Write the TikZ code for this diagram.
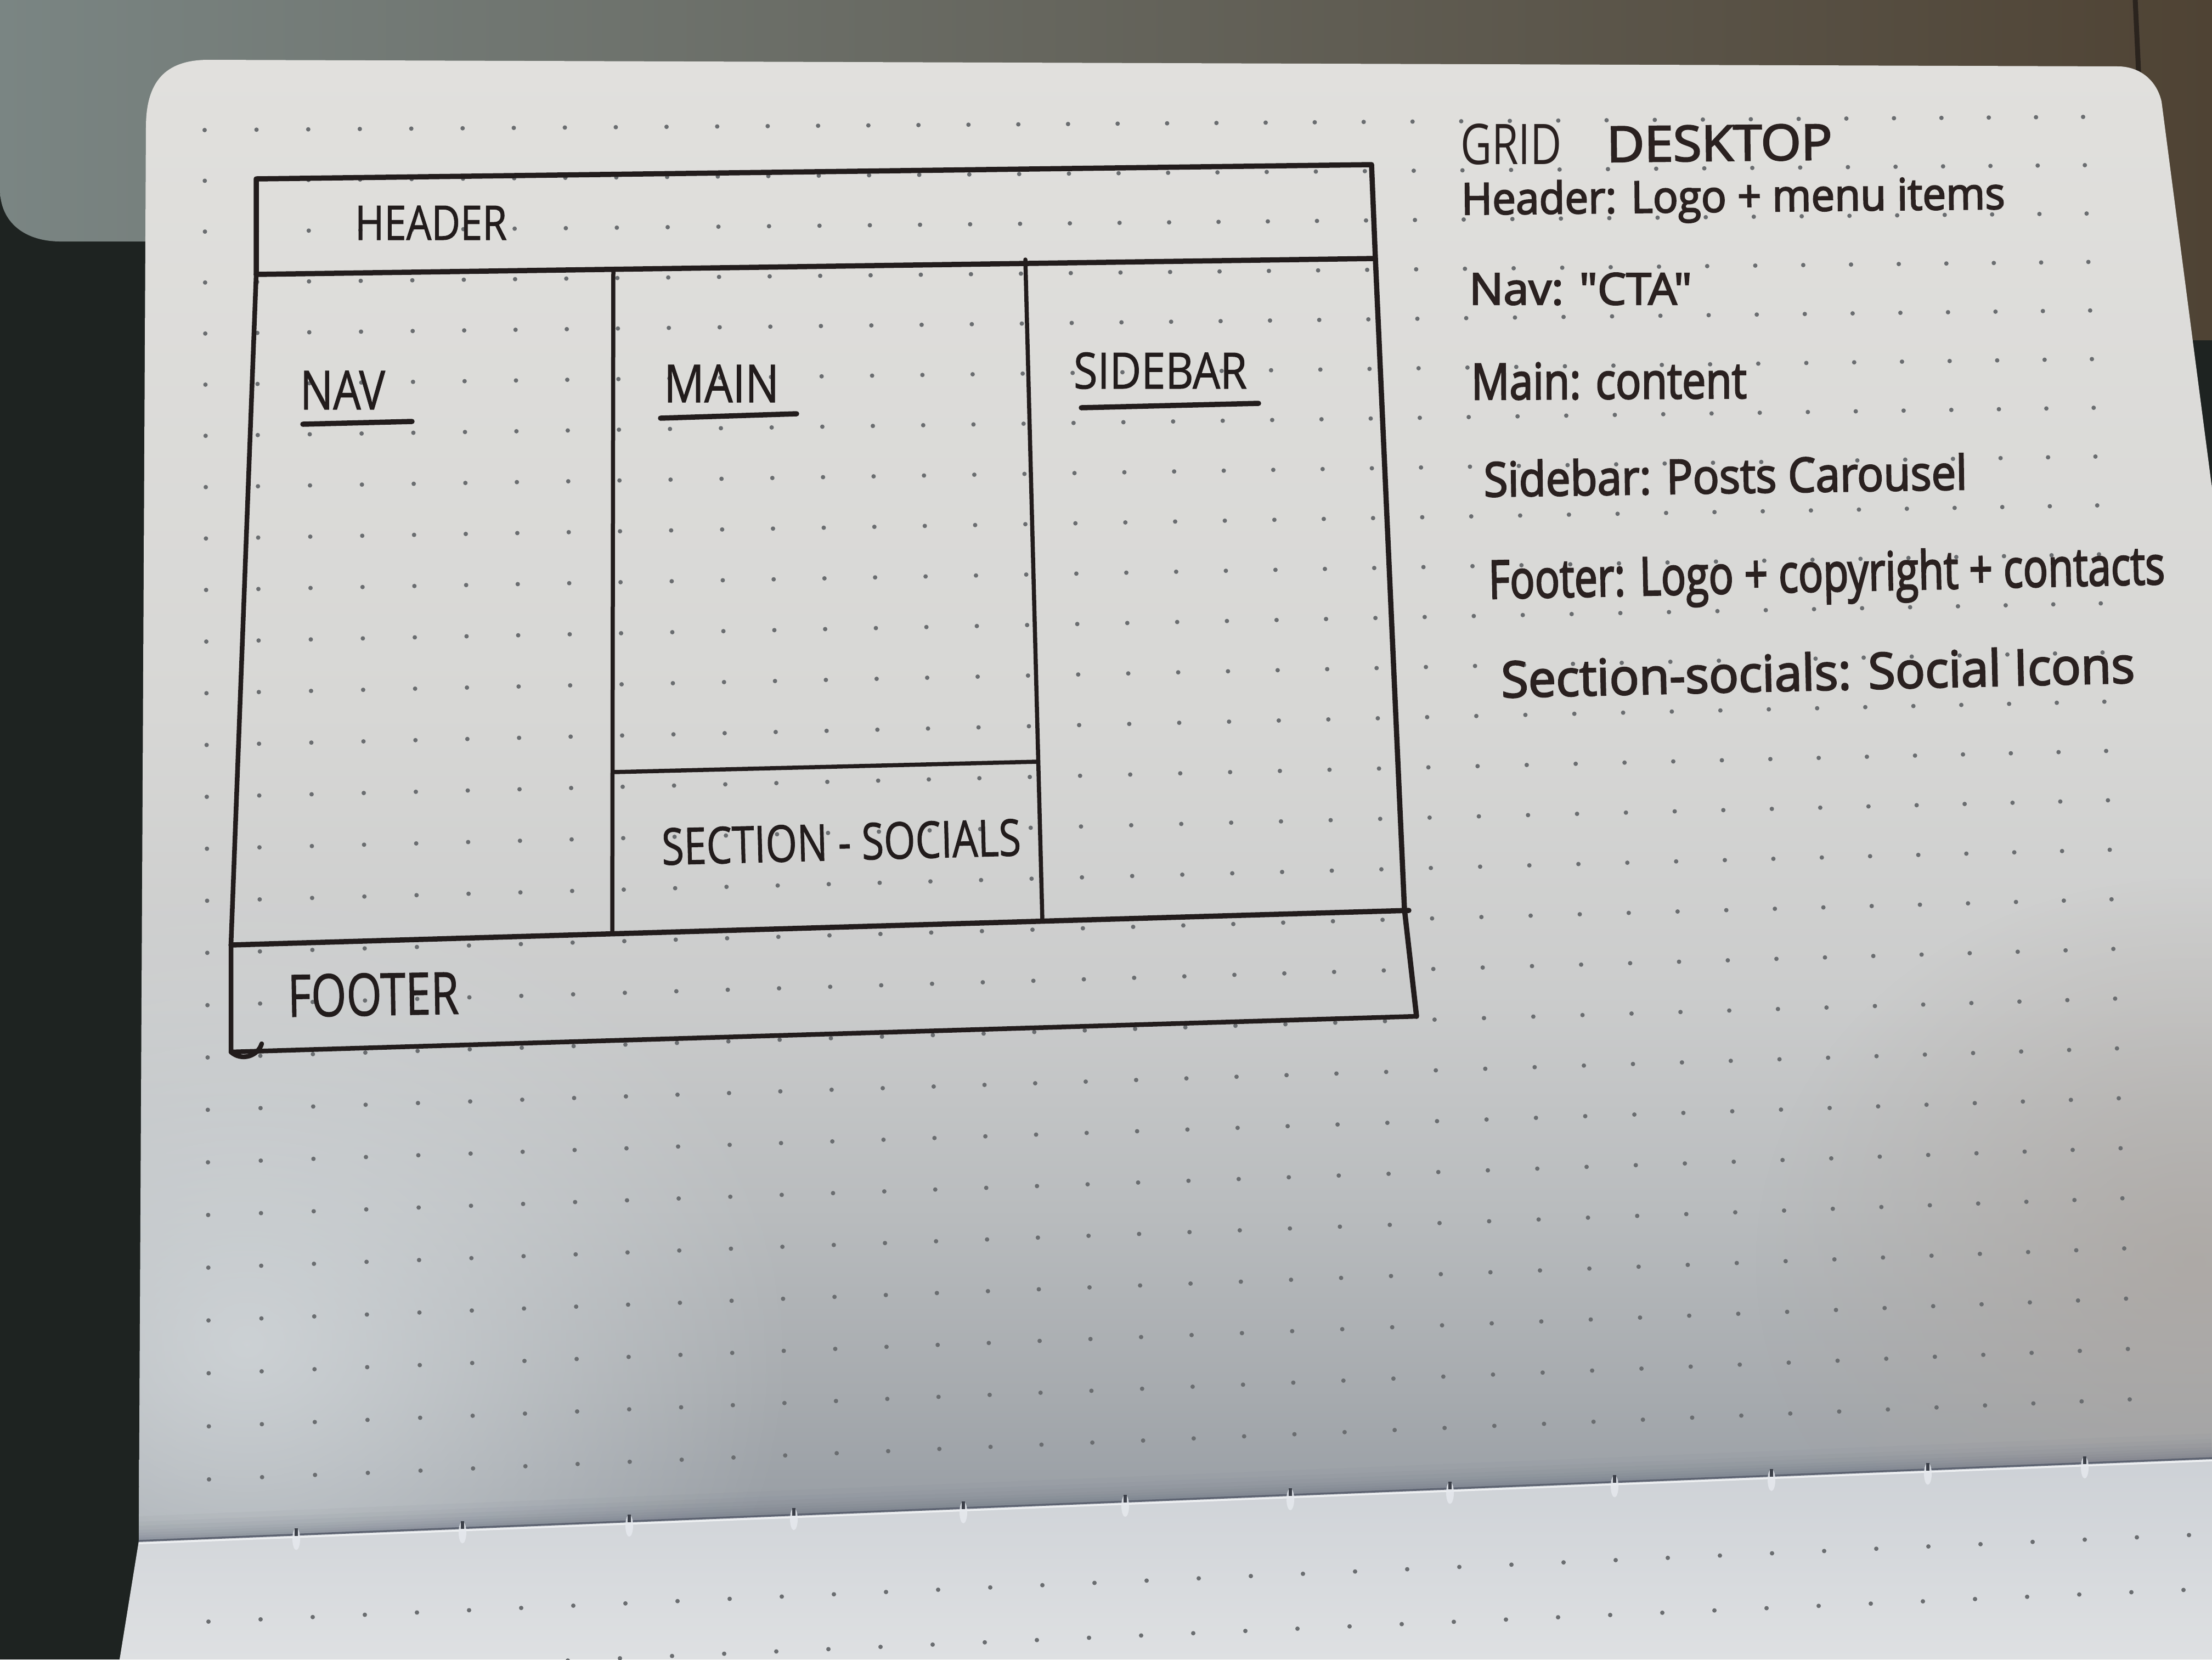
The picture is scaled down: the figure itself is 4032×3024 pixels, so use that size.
\documentclass[tikz,border=0pt]{standalone}
\usepackage{fontspec}
\usepackage{graphicx}
\usetikzlibrary{fadings}

\newfontfamily\handfont[FakeBold=1.2]{Open Sans}
\newfontfamily\handthin{Open Sans}
\newfontfamily\handbold[FakeBold=3]{Open Sans}

% ink and paper colours
\definecolor{ink}{HTML}{221C1C}
\definecolor{inknote}{HTML}{2A2120}
\definecolor{desk}{HTML}{1E2321}
\definecolor{lidL}{HTML}{7A8583}
\definecolor{lidM}{HTML}{66696A}
\definecolor{lidR}{HTML}{4F4334}
\definecolor{lidseam}{HTML}{2B241E}
\definecolor{upA}{HTML}{959BA2}
\definecolor{upB}{HTML}{A6AAAE}
\definecolor{upC}{HTML}{B9BCBE}
\definecolor{upD}{HTML}{CBCCCC}
\definecolor{upE}{HTML}{D7D7D5}
\definecolor{upF}{HTML}{E1E0DD}
\definecolor{spotcool}{HTML}{D2D7DA}
\definecolor{spotwarm}{HTML}{ABA49E}
\definecolor{foldshade}{HTML}{6C7383}
\definecolor{foldline}{HTML}{5D6371}
\definecolor{foldlight}{HTML}{EEF0F2}
\definecolor{lowTop}{HTML}{CDD1D6}
\definecolor{lowBot}{HTML}{DEE0E2}
\definecolor{dotc}{HTML}{6A6D70}
\definecolor{stitchlight}{HTML}{E6E9EE}
\definecolor{stitchdark}{HTML}{3B3F48}

% paper shading of the upper page, dark at the fold, light at the top
\pgfdeclareverticalshading{uppage}{100bp}{color(0bp)=(upA); color(25bp)=(upA);
  color(29.8bp)=(upB); color(36.25bp)=(upC); color(43.5bp)=(upD);
  color(53bp)=(upE); color(75bp)=(upF); color(100bp)=(upF)}

\tikzfading[name=softspot, inner color=transparent!0, outer color=transparent!100]

% hand lettering: width (mm), font size (mm), text
\newcommand{\handcaps}[3]{\resizebox{#1mm}{\height}{\handfont\fontsize{#2mm}{#2mm}\selectfont #3}}
\newcommand{\handlight}[3]{\resizebox{#1mm}{\height}{\handthin\fontsize{#2mm}{#2mm}\selectfont #3}}
\newcommand{\handnote}[3]{\resizebox{#1mm}{\height}{\handbold\fontsize{#2mm}{#2mm}\selectfont #3}}

\def\pageupper{(266,232) .. controls (266,150) and (300,109) .. (380,109) -- (3864,121)
  .. controls (3905,123) and (3932,150) .. (3940,185) -- (4032,890) -- (4032,2657)
  -- (253,2808) -- cycle}

\tikzset{
  wire/.style={draw=ink, line width=0.85mm, line cap=round, line join=round},
  underline/.style={draw=ink, line width=0.95mm, line cap=round},
  wftext/.style={inner sep=0pt, outer sep=0pt, anchor=base west, text=ink},
  notetext/.style={inner sep=0pt, outer sep=0pt, anchor=base west, text=inknote},
  griddot/.style={fill=dotc},
}

\begin{document}
\begin{tikzpicture}[x=0.1mm,y=-0.1mm]
\useasboundingbox (0,0) rectangle (4032,3024);

% desk and laptop lid behind the notebook
\fill[desk] (0,0) rectangle (4032,3024);
\shade[left color=lidL, middle color=lidM, right color=lidR]
  (0,0) -- (4032,0) -- (4032,620) -- (2200,620) -- (2200,440) -- (110,440)
  .. controls (45,440) and (0,405) .. (0,345) -- cycle;
\draw[lidseam, line width=0.9mm] (3892,0) -- (3899,150);

% lower page below the fold
\shade[top color=lowTop, bottom color=lowBot]
  (253,2808) -- (4032,2657) -- (4032,3024) -- (218,3024) -- cycle;

% upper page
\shade[shading=uppage] \pageupper;
\begin{scope}
  \clip \pageupper;
  \fill[spotcool, path fading=softspot, fill opacity=0.85] (450,2450) ellipse [x radius=1000, y radius=900];
  \fill[spotwarm, path fading=softspot, fill opacity=0.7] (4000,2300) ellipse [x radius=800, y radius=700];
\end{scope}

% fold between the two pages, with its soft shadow on the upper page
\coordinate (foldL) at (253,2808);
\coordinate (foldR) at (4032,2657);
\begin{scope}
  \clip \pageupper;
  \foreach \w/\o in {9/0.05, 7/0.06, 5.5/0.07, 4/0.08, 3/0.09, 2/0.1, 1.2/0.12}{
    \draw[foldshade, line width=\w mm, opacity=\o] (foldL) -- (foldR);
  }
\end{scope}
\draw[foldline, line width=0.35mm] (foldL) -- (foldR);
\draw[foldlight, line width=0.3mm] ([yshift=-0.45mm]foldL) -- ([yshift=-0.45mm]foldR);

% binding stitches along the fold
\foreach \sx in {540,843,1147,1447,1756,2051,2352,2643,2943,3229,3514,3800}{
  \pgfmathsetmacro{\sy}{2808-0.04*(\sx-253)}
  \fill[stitchlight, opacity=0.85] (\sx,\sy+8) ellipse [x radius=7, y radius=20];
  \fill[stitchdark] (\sx-3,\sy-12) rectangle (\sx+3,\sy+2);
}

% dot grid of the upper page (seen in perspective)
\foreach \i in {0,...,38}{
  \foreach \j in {0,...,26}{
    \pgfmathsetmacro{\gu}{\i/38}
    \pgfmathsetmacro{\gv}{\j/26}
    \pgfmathsetmacro{\gw}{1+0.05075*\gu-0.02323*\gv}
    \pgfmathsetmacro{\gx}{(3616.7*\gu-0.85*\gv+373)/\gw}
    \pgfmathsetmacro{\gy}{(-13.19*\gu+2396.4*\gv+237)/\gw}
    \fill[griddot] (\gx,\gy) circle[radius=0.4mm];
  }
}
% dot grid of the lower page
\foreach \k in {0,...,38}{
  \fill[griddot] (380+95*\k,2955-4.15*\k) circle[radius=0.4mm];
  \fill[griddot] (370+95*\k,3055-4.15*\k) circle[radius=0.4mm];
}

% wireframe corners
\coordinate (hTL) at (467,326);
\coordinate (hTR) at (2500,300);
\coordinate (hBL) at (467,500);
\coordinate (hBR) at (2507,471);
\coordinate (rMid) at (2560,1657);
\coordinate (fTL) at (421,1722);
\coordinate (fTR) at (2568,1659);
\coordinate (fBL) at (421,1917);
\coordinate (fBR) at (2582,1852);
\coordinate (nmT) at (1118,490);
\coordinate (nmB) at (1116,1702);
\coordinate (msT) at (1869,473);
\coordinate (msB) at (1900,1678);
\coordinate (ssL) at (1118,1407);
\coordinate (ssR) at (1890,1388);
\coordinate (hook) at (477,1902);

% wireframe outline and grid areas
\draw[wire, line width=0.95mm] (hBL) -- (hTL) -- (hTR) -- (hBR) -- (rMid) -- (fBR);
\draw[wire, line width=0.95mm] (hBL) -- (hBR);
\draw[wire] (hBL) -- (fTL) -- (fBL) -- (fBR);
\draw[wire] (fBL) .. controls (440,1934) and (470,1925) .. (hook);
\draw[wire, line width=0.95mm] (fTL) -- (fTR);
\draw[wire, line width=0.75mm] (nmT) -- (nmB);
\draw[wire, line width=0.75mm] (msT) -- (msB);
\draw[wire, line width=0.75mm] (ssL) -- (ssR);

% area labels
\node[wftext] (lblHeader) at (647,437) {\handcaps{27.7}{8.68}{HEADER}};
\node[wftext] (lblNav) at (547,746) {\handcaps{15.5}{9.8}{NAV}};
\node[wftext] (lblMain) at (1210,733) {\handcaps{21.0}{9.52}{MAIN}};
\node[wftext] (lblSidebar) at (1957,708) {\handcaps{31.6}{9.1}{SIDEBAR}};
\node[wftext, rotate=1.5] (lblSocials) at (1207,1576) {\handcaps{65.5}{9.24}{SECTION - SOCIALS}};
\node[wftext, rotate=1] (lblFooter) at (525,1853) {\handcaps{31.2}{10.64}{FOOTER}};

% underlines of the column labels
\coordinate (uNavL) at (552,773);   \coordinate (uNavR) at (751,768);
\coordinate (uMainL) at (1204,762); \coordinate (uMainR) at (1452,754);
\coordinate (uSideL) at (1971,743); \coordinate (uSideR) at (2294,735);
\draw[underline] (uNavL) -- (uNavR);
\draw[underline] (uMainL) -- (uMainR);
\draw[underline] (uSideL) -- (uSideR);

% notes beside the wireframe
\node[notetext] (ttlGrid) at (2662,299) {\handlight{18.5}{10.22}{GRID}};
\node[notetext, rotate=0.6] (ttlDesktop) at (2929,295) {\handnote{41.1}{8.96}{DESKTOP}};
\node[notetext, rotate=0.6] (noteHeader) at (2664,391) {\handnote{99.1}{7.98}{Header: Logo + menu items}};
\node[notetext] (noteNav) at (2678,555) {\handnote{40.6}{7.98}{Nav: "CTA"}};
\node[notetext, rotate=0.3] (noteMain) at (2682,728) {\handnote{50.2}{9.1}{Main: content}};
\node[notetext, rotate=0.85] (noteSidebar) at (2705,905) {\handnote{88.1}{8.68}{Sidebar: Posts Carousel}};
\node[notetext, rotate=1.25] (noteFooter) at (2714,1091) {\handnote{123.3}{9.66}{Footer: Logo + copyright + contacts}};
\node[notetext, rotate=1.34] (noteSocials) at (2737,1271) {\handnote{115.5}{9.1}{Section-socials: Social Icons}};

\end{tikzpicture}
\end{document}
